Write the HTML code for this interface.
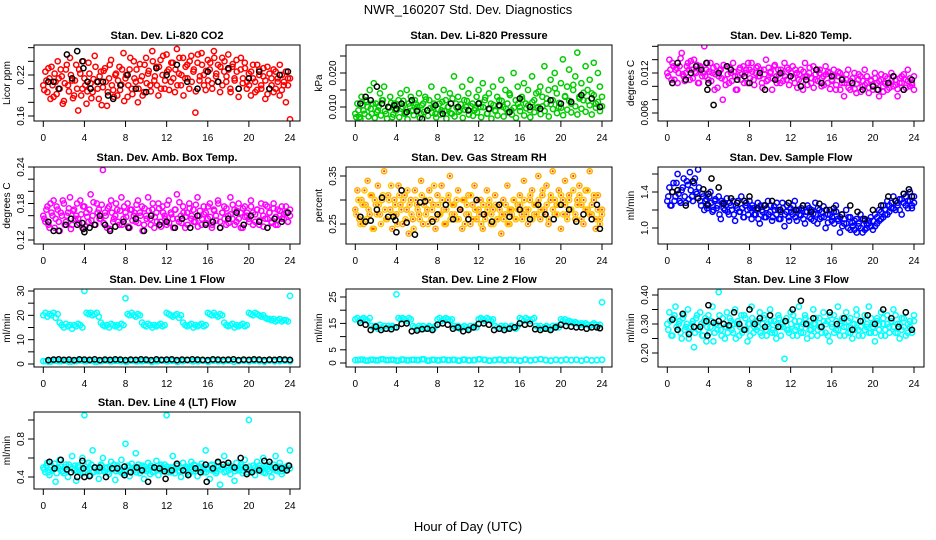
<!DOCTYPE html>
<html><head><meta charset="utf-8">
<style>
html,body{margin:0;padding:0;background:#fff;}
svg{display:block;font-family:"Liberation Sans",sans-serif;}
</style></head>
<body>
<svg id="chart" width="936" height="540" viewBox="0 0 936 540" xmlns="http://www.w3.org/2000/svg">
<text x="468" y="14" text-anchor="middle" font-size="13">NWR_160207  Std. Dev. Diagnostics</text>
<text x="468" y="531" text-anchor="middle" font-size="13">Hour of Day (UTC)</text>
</svg>
<script>
const xTicks=[0,4,8,12,16,20,24];
const co2Red=[0.205,0.225,0.195,0.215,0.232,0.188,0.21,0.24,0.2,0.218,0.182,0.228,0.205,0.245,0.212,0.19,0.235,0.168,0.222,0.2,0.215,0.178,0.238,0.208,0.195,0.248,0.21,0.185,0.225,0.202,0.23,0.175,0.215,0.242,0.198,0.22,0.19,0.232,0.206,0.252,0.215,0.188,0.228,0.2,0.24,0.21,0.18,0.236,0.218,0.195,0.245,0.222,0.205,0.255,0.212,0.232,0.19,0.242,0.22,0.2,0.25,0.228,0.21,0.238,0.195,0.258,0.222,0.205,0.245,0.215,0.235,0.2,0.248,0.225,0.165,0.238,0.212,0.252,0.22,0.198,0.242,0.228,0.208,0.255,0.218,0.235,0.195,0.245,0.225,0.21,0.25,0.2,0.232,0.215,0.242,0.188,0.228,0.208,0.238,0.2,0.222,0.19,0.235,0.21,0.198,0.228,0.205,0.218,0.185,0.232,0.2,0.215,0.195,0.225,0.21,0.19,0.22,0.205,0.18,0.215,0.155];
const co2Red2=[0.198,0.212,0.23,0.185,0.205,0.222,0.192,0.215,0.228,0.178,0.208,0.235,0.196,0.22,0.186,0.212,0.2,0.228,0.19,0.24,0.205,0.196,0.222,0.186,0.214,0.232,0.2,0.218,0.176,0.226,0.21,0.195,0.235,0.205,0.188,0.222,0.212,0.198,0.228,0.182,0.22,0.205,0.245,0.192,0.215,0.228,0.2,0.212,0.19,0.235,0.208,0.226,0.196,0.24,0.218,0.205,0.232,0.2,0.248,0.212,0.225,0.198,0.238,0.215,0.228,0.205,0.245,0.22,0.19,0.232,0.215,0.24,0.21,0.228,0.196,0.25,0.218,0.235,0.205,0.226,0.212,0.238,0.2,0.245,0.222,0.21,0.232,0.205,0.24,0.218,0.228,0.195,0.236,0.212,0.225,0.2,0.245,0.215,0.23,0.21,0.205,0.225,0.215,0.195,0.235,0.22,0.2,0.23,0.212,0.192,0.222,0.205,0.228,0.2,0.215,0.235,0.198,0.21,0.225,0.205,0.215];
const co2BlackH=[0.5,1,1.5,2.3,2.8,3.3,3.8,3.9,4.3,4.6,5.3,5.8,6.3,6.8,7.5,8.2,9,10,11,12,13,14,15,16,17,18,19,20,21,22,23,23.8];
const co2Black=[0.21,0.21,0.2,0.25,0.215,0.255,0.24,0.23,0.21,0.2,0.21,0.21,0.19,0.185,0.205,0.22,0.2,0.195,0.23,0.22,0.235,0.21,0.2,0.225,0.21,0.23,0.2,0.215,0.225,0.2,0.22,0.225];
const presGreen=[0.008,0.011,0.007,0.013,0.009,0.012,0.01,0.015,0.008,0.017,0.011,0.009,0.014,0.012,0.016,0.008,0.01,0.013,0.007,0.011,0.009,0.012,0.014,0.01,0.008,0.015,0.011,0.013,0.009,0.012,0.01,0.014,0.008,0.011,0.013,0.009,0.012,0.016,0.01,0.008,0.013,0.011,0.009,0.015,0.012,0.01,0.014,0.008,0.019,0.011,0.013,0.009,0.016,0.012,0.01,0.014,0.018,0.011,0.009,0.013,0.015,0.01,0.017,0.012,0.008,0.014,0.011,0.016,0.009,0.013,0.012,0.018,0.01,0.015,0.011,0.014,0.009,0.02,0.012,0.016,0.01,0.013,0.017,0.011,0.015,0.009,0.019,0.012,0.014,0.01,0.016,0.013,0.022,0.011,0.015,0.018,0.012,0.02,0.014,0.01,0.017,0.024,0.013,0.016,0.021,0.011,0.015,0.019,0.026,0.013,0.017,0.012,0.022,0.015,0.018,0.014,0.023,0.011,0.02,0.016,0.013];
const presGreen2=[0.007,0.009,0.0065,0.0105,0.008,0.0115,0.0072,0.0095,0.011,0.0068,0.0085,0.0102,0.0075,0.012,0.0088,0.0066,0.0098,0.0112,0.0078,0.009,0.0108,0.007,0.0095,0.0118,0.0082,0.0064,0.0102,0.0088,0.0076,0.011,0.0092,0.0068,0.0105,0.0085,0.0122,0.0074,0.0096,0.0083,0.011,0.0069,0.0094,0.0078,0.0115,0.0088,0.0066,0.01,0.0082,0.0125,0.0072,0.0098,0.0086,0.0108,0.0068,0.0092,0.0118,0.0078,0.0102,0.0074,0.0096,0.0084,0.0112,0.007,0.0099,0.0128,0.0081,0.0093,0.0066,0.0106,0.0088,0.0075,0.0102,0.0118,0.0072,0.0095,0.0084,0.0135,0.0078,0.0098,0.0068,0.011,0.0088,0.0122,0.0075,0.0096,0.0105,0.007,0.0114,0.0085,0.0098,0.0145,0.0079,0.0102,0.0088,0.0125,0.0072,0.0108,0.0094,0.0155,0.0082,0.0112,0.0098,0.0076,0.0132,0.0092,0.0118,0.0084,0.0165,0.0102,0.0078,0.0125,0.0095,0.0142,0.0086,0.0118,0.0105,0.0078,0.0135,0.0098,0.0115,0.0088,0.0102];
const presBlackH=[0.5,1,1.5,2.1,2.6,3.2,3.8,4,4.5,5,5.5,6,6.5,7,7.8,8.5,9.3,10,11,12,13,14,15,16,17,18,19,20,21,22,23,23.8];
const presBlack=[0.011,0.013,0.012,0.016,0.011,0.01,0.0105,0.0095,0.011,0.0085,0.012,0.0088,0.0065,0.009,0.0105,0.008,0.011,0.01,0.009,0.011,0.0095,0.0105,0.0085,0.0125,0.01,0.0095,0.012,0.011,0.0115,0.0135,0.0125,0.01];
const tempMag=[0.012,0.014,0.011,0.013,0.0125,0.0105,0.013,0.015,0.0115,0.012,0.0135,0.011,0.0125,0.014,0.012,0.0105,0.013,0.0115,0.016,0.0125,0.011,0.0135,0.012,0.0095,0.013,0.0115,0.0125,0.008,0.011,0.013,0.0105,0.012,0.0135,0.0115,0.0095,0.0125,0.011,0.013,0.012,0.0105,0.0125,0.0135,0.011,0.012,0.013,0.0115,0.0105,0.0125,0.014,0.011,0.012,0.0095,0.013,0.0115,0.0125,0.0105,0.012,0.0135,0.011,0.0125,0.0115,0.013,0.0105,0.012,0.011,0.0125,0.0095,0.0135,0.0115,0.012,0.0105,0.013,0.011,0.0125,0.012,0.01,0.0115,0.013,0.0105,0.012,0.011,0.0125,0.0095,0.0115,0.012,0.0105,0.0085,0.011,0.0125,0.0095,0.0105,0.012,0.009,0.011,0.0115,0.01,0.0125,0.0105,0.009,0.011,0.0095,0.012,0.0105,0.0085,0.011,0.01,0.0115,0.0095,0.0105,0.012,0.01,0.011,0.0085,0.0105,0.0115,0.0095,0.011,0.0125,0.01,0.0105,0.0095];
const tempMag2=[0.0115,0.0125,0.0135,0.011,0.0128,0.012,0.0142,0.0118,0.0108,0.013,0.0125,0.0138,0.0112,0.0122,0.0132,0.0105,0.0128,0.012,0.0115,0.0135,0.0122,0.0108,0.0128,0.0118,0.0098,0.0124,0.0112,0.0132,0.0102,0.0118,0.0128,0.0108,0.0122,0.0095,0.0115,0.0128,0.0118,0.0105,0.0125,0.0135,0.0112,0.0122,0.0102,0.0128,0.0115,0.0125,0.0098,0.0118,0.0108,0.0128,0.0122,0.0112,0.0132,0.0105,0.0118,0.0125,0.0108,0.0115,0.0128,0.0102,0.012,0.0112,0.0125,0.0098,0.0118,0.0108,0.0122,0.0114,0.0102,0.0128,0.0112,0.0098,0.0118,0.0108,0.0125,0.0112,0.0102,0.0118,0.0122,0.0096,0.0108,0.0115,0.0102,0.0122,0.0095,0.0112,0.0105,0.0118,0.0098,0.0108,0.0112,0.0096,0.0104,0.0118,0.0092,0.0108,0.0102,0.0115,0.0098,0.0108,0.0102,0.0112,0.0095,0.0108,0.0118,0.0092,0.0104,0.0112,0.0098,0.0108,0.0115,0.0102,0.0096,0.0112,0.0105,0.0118,0.0098,0.0108,0.0112,0.0102,0.0115];
const tempBlackH=[0.5,1,1.8,2.3,2.8,3.3,3.8,3.9,4,4.5,5,5.8,6.2,6.8,7.5,8,9,9.5,10.5,11,12,13,13.5,14.5,15,16,17,18,19,20,20.5,21.5,22,23,23.8];
const tempBlack=[0.0105,0.0135,0.011,0.012,0.013,0.0125,0.0135,0.0095,0.0105,0.0072,0.012,0.013,0.0125,0.011,0.0115,0.0105,0.012,0.0095,0.011,0.012,0.0115,0.01,0.011,0.0125,0.0105,0.0115,0.011,0.0105,0.0095,0.01,0.0095,0.0105,0.0115,0.0095,0.011];
const boxMag=[0.16,0.15,0.175,0.14,0.165,0.185,0.155,0.17,0.135,0.16,0.18,0.15,0.165,0.19,0.145,0.17,0.16,0.155,0.185,0.14,0.175,0.165,0.15,0.195,0.16,0.145,0.18,0.17,0.155,0.235,0.165,0.14,0.175,0.185,0.15,0.16,0.17,0.145,0.19,0.155,0.165,0.18,0.14,0.17,0.16,0.15,0.185,0.165,0.175,0.145,0.16,0.19,0.155,0.17,0.14,0.165,0.18,0.15,0.175,0.16,0.145,0.185,0.165,0.155,0.17,0.195,0.15,0.16,0.175,0.14,0.165,0.18,0.155,0.17,0.15,0.19,0.16,0.145,0.175,0.165,0.155,0.18,0.14,0.17,0.16,0.185,0.15,0.165,0.175,0.145,0.16,0.19,0.155,0.17,0.15,0.18,0.165,0.14,0.175,0.16,0.155,0.185,0.165,0.15,0.17,0.145,0.18,0.16,0.155,0.175,0.165,0.15,0.18,0.145,0.17,0.16,0.175,0.155,0.165,0.15,0.17];
const boxMag2=[0.155,0.17,0.145,0.18,0.16,0.14,0.175,0.15,0.165,0.185,0.145,0.16,0.172,0.138,0.168,0.155,0.18,0.148,0.162,0.175,0.142,0.158,0.17,0.152,0.182,0.145,0.165,0.155,0.178,0.148,0.16,0.172,0.138,0.165,0.155,0.18,0.15,0.168,0.145,0.175,0.158,0.142,0.17,0.152,0.165,0.178,0.148,0.16,0.135,0.172,0.155,0.168,0.145,0.18,0.158,0.15,0.172,0.142,0.165,0.155,0.178,0.148,0.162,0.14,0.17,0.155,0.182,0.148,0.165,0.158,0.145,0.172,0.16,0.15,0.178,0.142,0.168,0.155,0.162,0.148,0.175,0.158,0.145,0.168,0.152,0.18,0.14,0.165,0.155,0.172,0.148,0.162,0.178,0.145,0.168,0.155,0.14,0.172,0.158,0.165,0.15,0.175,0.145,0.162,0.17,0.152,0.168,0.142,0.178,0.155,0.165,0.148,0.172,0.158,0.145,0.168,0.155,0.162,0.175,0.15,0.16];
const boxBlackH=[0.5,1,1.5,2.2,2.7,3.3,3.8,3.9,4,4.5,5,5.5,6,6.5,7,7.8,8.3,9,9.8,10.5,11.3,12,12.8,13.5,14.3,15,15.8,16.5,17.2,18,18.8,19.5,20.2,21,21.8,22.5,23.2,23.8];
const boxBlack=[0.15,0.135,0.135,0.145,0.155,0.145,0.148,0.138,0.133,0.14,0.145,0.16,0.145,0.135,0.142,0.15,0.14,0.155,0.135,0.16,0.145,0.15,0.14,0.155,0.14,0.16,0.145,0.15,0.14,0.155,0.165,0.145,0.16,0.15,0.14,0.155,0.15,0.165];
const rhYellow=[0.28,0.32,0.26,0.3,0.25,0.29,0.34,0.27,0.31,0.24,0.29,0.33,0.27,0.3,0.36,0.26,0.31,0.28,0.24,0.3,0.27,0.33,0.29,0.25,0.31,0.28,0.23,0.3,0.26,0.32,0.29,0.27,0.34,0.25,0.3,0.28,0.32,0.26,0.29,0.24,0.31,0.27,0.33,0.28,0.25,0.3,0.35,0.27,0.29,0.26,0.32,0.28,0.24,0.3,0.27,0.31,0.25,0.29,0.33,0.26,0.28,0.3,0.24,0.27,0.32,0.29,0.25,0.28,0.31,0.26,0.29,0.23,0.3,0.27,0.33,0.25,0.28,0.3,0.26,0.29,0.31,0.27,0.34,0.28,0.25,0.3,0.32,0.27,0.29,0.35,0.26,0.31,0.28,0.33,0.25,0.3,0.36,0.27,0.29,0.32,0.24,0.3,0.34,0.27,0.31,0.28,0.35,0.26,0.3,0.33,0.29,0.25,0.32,0.28,0.36,0.27,0.3,0.24,0.31,0.26,0.28];
const rhYellow2=[0.27,0.3,0.25,0.29,0.32,0.26,0.28,0.31,0.24,0.3,0.27,0.29,0.25,0.31,0.28,0.26,0.3,0.33,0.27,0.29,0.25,0.31,0.28,0.3,0.26,0.32,0.29,0.27,0.24,0.3,0.28,0.26,0.31,0.29,0.27,0.25,0.3,0.28,0.33,0.26,0.29,0.27,0.3,0.25,0.28,0.31,0.26,0.29,0.27,0.3,0.26,0.28,0.3,0.25,0.29,0.27,0.31,0.26,0.28,0.3,0.27,0.25,0.29,0.26,0.28,0.3,0.27,0.25,0.29,0.26,0.28,0.27,0.26,0.29,0.25,0.28,0.27,0.3,0.26,0.28,0.29,0.26,0.3,0.27,0.28,0.31,0.26,0.29,0.27,0.3,0.28,0.32,0.27,0.29,0.26,0.31,0.28,0.3,0.27,0.29,0.31,0.27,0.29,0.26,0.3,0.28,0.32,0.27,0.29,0.31,0.26,0.3,0.28,0.32,0.27,0.29,0.31,0.26,0.28,0.25,0.27];
const rhBlackH=[0.5,1,1.5,2.1,2.6,3.2,3.7,3.9,4,4.5,5,5.8,6.3,6.8,7.5,8,8.8,9.5,10.2,11,11.8,12.5,13.3,14,15,16,17,17.8,18.5,19.3,20,20.8,21.5,22.2,23,23.5,23.8];
const rhBlack=[0.265,0.255,0.257,0.28,0.305,0.265,0.265,0.258,0.233,0.32,0.253,0.228,0.295,0.297,0.255,0.27,0.29,0.26,0.28,0.26,0.3,0.27,0.255,0.29,0.265,0.28,0.26,0.29,0.27,0.26,0.29,0.28,0.255,0.27,0.26,0.29,0.24];
const flowBlue=[1.3,1.45,1.25,1.5,1.35,1.6,1.3,1.42,1.55,1.28,1.48,1.62,1.35,1.5,1.4,1.65,1.3,1.38,1.2,1.32,1.25,1.4,1.18,1.3,1.22,1.35,1.1,1.28,1.2,1.33,1.15,1.25,1.3,1.08,1.22,1.18,1.35,1.12,1.25,1.2,1.3,1.1,1.22,1.15,1.28,1.05,1.2,1.25,1.12,1.3,1.18,1.08,1.24,1.15,1.2,1.1,1.28,1.02,1.18,1.12,1.22,1.15,1.3,1.08,1.2,1.14,1.25,1.05,1.18,1.22,1.1,1.16,1.28,1.05,1.2,1.12,1.24,1.0,1.15,1.2,1.08,1.18,1.25,1.1,0.95,1.15,1.05,1.2,1.0,1.12,1.06,0.98,1.1,1.02,1.15,0.95,1.08,1.0,1.05,1.12,0.98,1.15,1.05,1.2,1.1,1.25,1.15,1.3,1.18,1.22,1.35,1.2,1.28,1.32,1.15,1.38,1.25,1.3,1.4,1.22,1.35];
const flowBlue2=[1.35,1.25,1.4,1.3,1.5,1.38,1.28,1.45,1.35,1.52,1.32,1.42,1.3,1.55,1.38,1.45,1.25,1.35,1.3,1.22,1.35,1.28,1.2,1.32,1.25,1.15,1.3,1.22,1.25,1.18,1.28,1.2,1.15,1.25,1.3,1.18,1.22,1.12,1.28,1.15,1.22,1.25,1.15,1.2,1.1,1.25,1.18,1.12,1.22,1.15,1.25,1.12,1.2,1.28,1.1,1.18,1.22,1.15,1.25,1.08,1.18,1.25,1.12,1.2,1.15,1.22,1.1,1.18,1.25,1.12,1.2,1.08,1.15,1.22,1.1,1.18,1.12,1.2,1.06,1.15,1.12,1.05,1.18,1.08,1.12,1.02,1.1,1.05,1.12,0.98,1.02,1.08,0.95,1.05,1.0,1.1,0.98,1.04,1.08,1.02,1.08,1.02,1.12,1.08,1.18,1.12,1.2,1.15,1.25,1.28,1.22,1.3,1.25,1.2,1.32,1.28,1.35,1.22,1.3,1.25,1.28];
const flowBlackH=[0.5,1,1.8,2.5,3,3.5,3.9,4,4.3,5,5.5,6.2,6.8,7.5,8,8.8,9.5,10.2,11,11.8,12.5,13.2,14,14.8,15.5,16.2,17,17.8,18.5,19.2,20,20.8,21.5,22.2,23,23.5,23.8];
const flowBlack=[1.4,1.42,1.25,1.52,1.33,1.43,1.26,1.38,1.55,1.45,1.27,1.33,1.28,1.3,1.35,1.22,1.25,1.3,1.2,1.28,1.2,1.25,1.18,1.27,1.2,1.22,1.15,1.25,1.18,1.1,1.2,1.25,1.35,1.3,1.38,1.43,1.35];
const line1Upper=[20,21,19.5,20.5,20,21,19,20.5,17,16,15,16.5,15.5,16,14.5,16,15.5,16.5,16,15,30,21,20.5,21,20,20.5,21,19.5,17,16,15.5,16,15,16.5,16,15.5,16,15,16.5,16,27,20.5,20,21,20,19.5,20.5,20,17,16,15.5,16.5,16,15,16,15.5,16,16.5,15.5,16,21,20.5,20,19.5,20,20.5,19,20,17,16,15.5,16,16.5,15,16,15.5,16,16.5,15.5,16,21,20.5,20,21,20,19.5,20.5,20,17,16,15.5,16,16.5,15,16,15.5,16,16.5,15.5,16,21,20.5,20,21,20.5,20,19.5,20,19,18.5,18.5,18,18.5,17.5,18,18.5,17.5,18,18,17.5,28];
const line1Lower=[1.2,1.0,1.4,1.1,1.3,1.0,1.2,1.5,1.1,1.3,1.0,1.2,1.4,1.1,1.3,1.2,1.0,1.4,1.1,1.2,1.3,1.0,1.2,1.4,1.1,1.3,1.0,1.2,1.5,1.1,1.2,1.3,1.0,1.4,1.2,1.1,1.3,1.0,1.2,1.4,1.1,1.3,1.2,1.0,1.4,1.1,1.2,1.3,1.1];
const line1Black=[1.6,1.8,1.9,1.7,1.8,1.6,1.9,1.8,1.7,1.9,1.6,1.8,1.7,1.9,1.8,1.6,1.8,1.7,1.9,1.8,1.6,1.9,1.7,1.8,1.9,1.6,1.8,1.7,1.9,1.8,1.7,1.6,1.9,1.8,1.7,1.8,1.9,1.6,1.8,1.7,1.9,1.8,1.6,1.8,1.7,1.9,1.8,1.7];
const line2Upper=[16.5,17,16,16.5,17,16.5,16,17,14,13.5,14,13,14.5,13.5,14,13,14,13.5,14,13.5,26,17,16.5,17,16.5,16,17,16.5,14,13.5,13,14,13.5,14,13,13.5,14,13.5,13,14,16.5,17,16,16.5,17,16.5,16,16.5,14,13.5,14,13,13.5,14,13.5,13,14,13.5,14,13.5,16.5,17,16.5,16,17,16.5,16,16.5,14,13.5,13,14,13.5,14,13,13.5,14,13.5,13,14,17,16.5,16,17,16.5,16,16.5,17,14,13.5,14,13,13.5,14,13.5,13,14,13.5,14,13.5,16.5,16,16.5,15.5,16,15.5,15,15.5,15,14.5,15,14.5,15,14.5,14,14.5,15,14.5,14,14.5,23];
const line2Lower=[1.1,1.3,0.9,1.2,1.0,1.4,1.1,1.2,0.9,1.3,1.0,1.2,1.1,1.4,0.9,1.2,1.0,1.3,1.1,1.2,0.9,1.3,1.0,1.1,1.4,1.2,0.9,1.1,1.3,1.0,1.2,1.1,0.9,1.3,1.0,1.2,1.4,1.1,0.9,1.2,1.0,1.3,1.1,1.2,0.9,1.3,1.0,1.1,1.2];
const line2BlackH=[0.5,1,1.5,2,2.5,3,3.5,4,4.5,5,5.5,6,6.5,7,7.5,8,8.5,9,9.5,10,10.5,11,11.5,12,12.5,13,13.5,14,14.5,15,15.5,16,16.5,17,17.5,18,18.5,19,19.5,20,20.5,21,21.5,22,22.5,23,23.5,23.8];
const line2Black=[15.2,14.5,12.5,13.8,12.5,13,12.8,13.5,14.8,15,12,12.3,12.8,13,12.5,14.5,15,14.5,13,13.5,12,12.5,13.5,14.8,15,14.5,12.5,13,12.5,13,13.5,15,14.5,14.8,12.8,12.5,13,12.5,13.5,14.5,14,13.8,13.5,13.5,13,13.5,13.5,13.2];
const line3Cyan=[0.3,0.34,0.26,0.32,0.36,0.28,0.31,0.25,0.33,0.29,0.35,0.27,0.3,0.22,0.32,0.28,0.34,0.26,0.31,0.24,0.33,0.29,0.36,0.27,0.3,0.41,0.28,0.32,0.25,0.34,0.29,0.31,0.27,0.35,0.3,0.26,0.33,0.28,0.32,0.24,0.3,0.36,0.27,0.31,0.29,0.34,0.26,0.32,0.28,0.3,0.35,0.27,0.31,0.25,0.33,0.29,0.3,0.18,0.32,0.28,0.34,0.26,0.31,0.29,0.36,0.27,0.3,0.33,0.25,0.31,0.28,0.35,0.3,0.26,0.32,0.29,0.34,0.27,0.31,0.24,0.3,0.33,0.28,0.36,0.26,0.31,0.29,0.34,0.27,0.32,0.25,0.3,0.35,0.28,0.31,0.26,0.33,0.29,0.36,0.27,0.3,0.24,0.32,0.28,0.34,0.3,0.26,0.33,0.29,0.31,0.35,0.27,0.3,0.25,0.32,0.29,0.34,0.27,0.31,0.28,0.33];
const line3Cyan2=[0.28,0.31,0.26,0.33,0.29,0.3,0.27,0.32,0.28,0.3,0.25,0.29,0.31,0.27,0.33,0.28,0.3,0.26,0.32,0.29,0.27,0.31,0.24,0.3,0.28,0.33,0.26,0.3,0.29,0.27,0.32,0.28,0.3,0.25,0.31,0.29,0.27,0.33,0.28,0.3,0.26,0.32,0.29,0.28,0.31,0.27,0.3,0.33,0.26,0.29,0.31,0.28,0.27,0.3,0.32,0.26,0.29,0.31,0.28,0.27,0.3,0.33,0.28,0.26,0.31,0.29,0.27,0.32,0.3,0.28,0.26,0.3,0.32,0.28,0.29,0.27,0.31,0.3,0.26,0.33,0.29,0.27,0.31,0.28,0.3,0.32,0.26,0.29,0.31,0.27,0.3,0.28,0.33,0.26,0.29,0.31,0.28,0.3,0.27,0.32,0.29,0.27,0.31,0.3,0.26,0.32,0.28,0.3,0.27,0.31,0.29,0.33,0.27,0.3,0.28,0.32,0.26,0.3,0.29,0.27,0.31];
const line3BlackH=[0.5,1,1.5,2.1,2.6,3.2,3.8,3.9,4,4.5,5,5.5,6,6.5,7,7.5,8,8.5,9,9.5,10,10.8,11.5,12.2,13,13.5,14.2,15,15.8,16.5,17.2,18,18.8,19.5,20.2,21,21.8,22.5,23.2,23.8];
const line3Black=[0.315,0.28,0.335,0.265,0.29,0.29,0.31,0.26,0.365,0.305,0.31,0.3,0.295,0.34,0.3,0.28,0.35,0.3,0.32,0.29,0.33,0.29,0.31,0.35,0.38,0.3,0.32,0.29,0.34,0.3,0.32,0.28,0.31,0.33,0.3,0.35,0.32,0.29,0.34,0.28];
const line4Cyan=[0.5,0.45,0.55,0.42,0.52,0.48,0.35,0.5,0.58,0.46,0.44,0.53,0.4,0.5,0.62,0.47,0.36,0.52,0.45,0.6,1.05,0.48,0.55,0.42,0.68,0.5,0.46,0.38,0.53,0.6,0.45,0.5,0.43,0.56,0.48,0.37,0.52,0.46,0.58,0.44,0.75,0.5,0.41,0.54,0.47,0.65,0.5,0.44,0.52,0.38,0.48,0.55,0.43,0.5,0.46,0.57,0.42,0.51,0.48,0.53,1.05,0.45,0.5,0.62,0.44,0.52,0.47,0.4,0.55,0.48,0.5,0.43,0.56,0.46,0.52,0.41,0.49,0.54,0.45,0.68,0.5,0.38,0.53,0.47,0.44,0.55,0.32,0.5,0.62,0.46,0.52,0.43,0.49,0.36,0.55,0.47,0.51,0.44,0.58,0.48,1.0,0.45,0.52,0.42,0.56,0.49,0.46,0.6,0.44,0.51,0.53,0.4,0.48,0.62,0.46,0.55,0.43,0.5,0.47,0.52,0.68];
const line4Cyan2=[0.48,0.52,0.45,0.5,0.47,0.54,0.44,0.49,0.51,0.46,0.5,0.47,0.53,0.45,0.49,0.52,0.46,0.5,0.48,0.44,0.51,0.47,0.49,0.53,0.45,0.5,0.48,0.46,0.52,0.47,0.49,0.45,0.51,0.48,0.53,0.46,0.5,0.47,0.44,0.51,0.48,0.52,0.46,0.49,0.5,0.45,0.53,0.47,0.49,0.51,0.46,0.48,0.52,0.45,0.5,0.47,0.49,0.53,0.46,0.48,0.51,0.47,0.45,0.5,0.48,0.52,0.46,0.49,0.47,0.51,0.45,0.5,0.48,0.53,0.46,0.49,0.51,0.47,0.5,0.45,0.48,0.52,0.47,0.49,0.46,0.51,0.48,0.5,0.45,0.52,0.47,0.49,0.51,0.46,0.48,0.5,0.53,0.47,0.49,0.45,0.51,0.48,0.46,0.5,0.47,0.52,0.49,0.45,0.51,0.48,0.46,0.5,0.53,0.47,0.49,0.51,0.46,0.48,0.5,0.52,0.49];
const line4BlackH=[0.6,1.1,1.7,2.3,2.7,3.3,3.8,3.9,4,4.5,5,5.5,6.1,6.7,7.2,7.9,7.9,8.5,9.1,9.6,10.2,10.8,11.3,11.8,11.9,12.5,13,13.6,14.1,14.8,15.3,15.8,15.9,16.5,17,17.5,18,18.6,19.2,19.7,19.8,20.3,21,21.5,22,22.6,23.2,23.7,23.9];
const line4Black=[0.56,0.49,0.58,0.48,0.45,0.4,0.57,0.49,0.4,0.41,0.5,0.5,0.4,0.49,0.49,0.51,0.42,0.45,0.5,0.47,0.35,0.5,0.49,0.46,0.38,0.47,0.54,0.47,0.42,0.49,0.45,0.53,0.35,0.49,0.56,0.53,0.55,0.5,0.6,0.5,0.43,0.45,0.47,0.57,0.56,0.5,0.49,0.47,0.52];

const NS="http://www.w3.org/2000/svg";
const svg=document.getElementById('chart');
const COLS=[[34,300],[346,612],[658,924]];
const ROWS=[[45,121],[167,244],[289,367],[412,489]];
function gridHours(n,off){const step=(24-(off||0))/(n-1);const h=[];for(let i=0;i<n;i++)h.push((off||0)+i*step);return h;}
function mk(tag,attrs,parent){const e=document.createElementNS(NS,tag);for(const k in attrs)e.setAttribute(k,attrs[k]);(parent||svg).appendChild(e);return e;}

const panels=[
 {name:'co2',title:'Stan. Dev. Li-820 CO2',ylab:'Licor ppm',c:0,r:0,v0:0.16,p0:116,v1:0.22,p1:75,ticks:[0.16,0.18,0.20,0.22,0.24,0.26],labels:['0.16','0.22'],
  series:[{v:co2Red,col:'#ff0000'},{v:co2Red2,off:0.1,col:'#ff0000'},{h:co2BlackH,v:co2Black,col:'#000'}]},
 {name:'pressure',title:'Stan. Dev. Li-820 Pressure',ylab:'kPa',c:1,r:0,v0:0.010,p0:107,v1:0.020,p1:73,ticks:[0.010,0.015,0.020,0.025],labels:['0.010','0.020'],
  series:[{v:presGreen,col:'#00cc00'},{v:presGreen2,off:0.1,col:'#00cc00'},{h:presBlackH,v:presBlack,col:'#000'}]},
 {name:'temp',title:'Stan. Dev. Li-820 Temp.',ylab:'degrees C',c:2,r:0,v0:0.006,p0:113,v1:0.012,p1:73,ticks:[0.006,0.008,0.010,0.012,0.014,0.016],labels:['0.006','0.012'],
  series:[{v:tempMag,col:'#ff00ff'},{v:tempMag2,off:0.1,col:'#ff00ff'},{h:tempBlackH,v:tempBlack,col:'#000'}]},
 {name:'ambbox',title:'Stan. Dev. Amb. Box Temp.',ylab:'degrees C',c:0,r:1,v0:0.12,p0:240,v1:0.24,p1:167,ticks:[0.12,0.14,0.16,0.18,0.20,0.22,0.24],labels:['0.12','0.18','0.24'],
  series:[{v:boxMag,col:'#ff00ff'},{v:boxMag2,off:0.1,col:'#ff00ff'},{h:boxBlackH,v:boxBlack,col:'#000'}]},
 {name:'rh',title:'Stan. Dev. Gas Stream RH',ylab:'percent',c:1,r:1,v0:0.25,p0:224,v1:0.35,p1:176,ticks:[0.25,0.30,0.35],labels:['0.25','0.35'],
  series:[{v:rhYellow,col:'#ffb000',dot:'#ff4000'},{v:rhYellow2,off:0.1,col:'#ffcc00',dot:'#ff4000'},{h:rhBlackH,v:rhBlack,col:'#000'}]},
 {name:'sampleflow',title:'Stan. Dev. Sample Flow',ylab:'ml/min',c:2,r:1,v0:1.0,p0:228,v1:1.4,p1:192,ticks:[1.0,1.2,1.4,1.6],labels:['1.0','1.4'],
  series:[{v:flowBlue,col:'#0000ff'},{v:flowBlue2,off:0.1,col:'#0000ff'},{h:flowBlackH,v:flowBlack,col:'#000'}]},
 {name:'line1',title:'Stan. Dev. Line 1 Flow',ylab:'ml/min',c:0,r:2,v0:0,p0:364,v1:30,p1:291,ticks:[0,5,10,15,20,25,30],labels:['0','10','20','30'],
  series:[{v:line1Upper,col:'#00ffff'},{v:line1Lower,col:'#00ffff'},{v:line1Lower,off:0.25,col:'#00ffff'},{h:gridHours(49).slice(1),v:line1Black,col:'#000'}]},
 {name:'line2',title:'Stan. Dev. Line 2 Flow',ylab:'ml/min',c:1,r:2,v0:0,p0:363,v1:25,p1:297,ticks:[0,5,10,15,20,25],labels:['0','5','15','25'],
  series:[{v:line2Upper,col:'#00ffff'},{v:line2Lower,col:'#00ffff'},{v:line2Lower,off:0.25,col:'#00ffff'},{h:line2BlackH,v:line2Black,col:'#000'}]},
 {name:'line3',title:'Stan. Dev. Line 3 Flow',ylab:'ml/min',c:2,r:2,v0:0.20,p0:353,v1:0.40,p1:295,ticks:[0.20,0.25,0.30,0.35,0.40],labels:['0.20','0.30','0.40'],
  series:[{v:line3Cyan,col:'#00ffff'},{v:line3Cyan2,off:0.1,col:'#00ffff'},{h:line3BlackH,v:line3Black,col:'#000'}]},
 {name:'line4',title:'Stan. Dev. Line 4 (LT) Flow',ylab:'ml/min',c:0,r:3,v0:0.4,p0:477,v1:0.8,p1:439,ticks:[0.4,0.6,0.8,1.0],labels:['0.4','0.8'],
  series:[{v:line4Cyan,col:'#00ffff'},{v:line4Cyan2,off:0.1,col:'#00ffff'},{h:line4BlackH,v:line4Black,col:'#000'}]}
];

panels.forEach(p=>{
  const [bx0,bx1]=COLS[p.c],[by0,by1]=ROWS[p.r];
  const g=mk('g',{});
  
  
  const xs=h=>bx0+9.3+h*(246.7/24);
  const ys=v=>p.p0+(v-p.v0)*(p.p1-p.p0)/(p.v1-p.v0);
  const cp='clip-'+p.name;
  const cl=mk('clipPath',{id:cp},g);
  mk('rect',{x:bx0,y:by0,width:bx1-bx0,height:by1-by0},cl);
  const pts=mk('g',{'clip-path':'url(#'+cp+')'},g);
  
  
  p.series.forEach(s=>{
    const hrs=s.h||gridHours(s.v.length,s.off);
    s.v.forEach((v,i)=>{
      const c=mk('circle',{cx:xs(hrs[i]).toFixed(1),cy:ys(v).toFixed(1),r:2.6,fill:'none',stroke:s.col,'stroke-width':1.5},pts);
      
      
      if(s.dot){mk('circle',{cx:xs(hrs[i]).toFixed(1),cy:ys(v).toFixed(1),r:1.1,fill:s.dot},pts);}
    });
  });
  const box=mk('rect',{x:bx0,y:by0,width:bx1-bx0,height:by1-by0,fill:'none',stroke:'#000','stroke-width':1},g);
  
  
  const t=mk('text',{x:(bx0+bx1)/2,y:by0-6,'text-anchor':'middle','font-size':11,'font-weight':'bold'},g);
  t.textContent=p.title;
  
  
  const xa=mk('g',{},g);
  
  
  mk('line',{x1:xs(0),x2:xs(24),y1:by1,y2:by1,stroke:'#000'},xa);
  xTicks.forEach(h=>{
    mk('line',{x1:xs(h),x2:xs(h),y1:by1,y2:by1+6,stroke:'#000'},xa);
    const tl=mk('text',{x:xs(h),y:by1+20,'text-anchor':'middle','font-size':10},xa);
    tl.textContent=String(h);
    
    
  });
  const ya=mk('g',{},g);
  
  
  mk('line',{x1:bx0,x2:bx0,y1:ys(p.ticks[0]),y2:ys(p.ticks[p.ticks.length-1]),stroke:'#000'},ya);
  p.ticks.forEach(v=>{mk('line',{x1:bx0-6,x2:bx0,y1:ys(v),y2:ys(v),stroke:'#000'},ya);});
  p.labels.forEach(l=>{
    const y=ys(parseFloat(l));
    const tl=mk('text',{x:0,y:0,'text-anchor':'middle','font-size':10,transform:'translate('+(bx0-10)+','+y+') rotate(-90)'},ya);
    tl.textContent=l;
    
    
  });
  const yl=mk('text',{x:0,y:0,'text-anchor':'middle','font-size':10,transform:'translate('+(bx0-24)+','+((by0+by1)/2)+') rotate(-90)'},ya);
  yl.textContent=p.ylab;
  
  
});
</script>
</body></html>
